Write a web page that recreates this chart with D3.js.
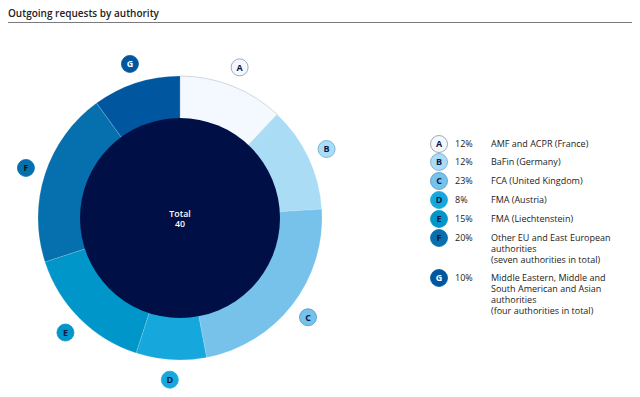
<!DOCTYPE html>
<html>
<head>
<meta charset="utf-8">
<script src="https://cdn.jsdelivr.net/npm/d3@7"></script>
<style>
  body { margin: 0; background: #fff; }
  text { font-family: "Open Sans", "Noto Sans", sans-serif; }
</style>
</head>
<body>
<svg id="chart" width="640" height="397"></svg>
<script>
const keys = ["A", "B", "C", "D", "E", "F", "G"];
const shares = [12, 12, 23, 8, 15, 20, 10];
const names = [
  ["AMF and ACPR (France)"],
  ["BaFin (Germany)"],
  ["FCA (United Kingdom)"],
  ["FMA (Austria)"],
  ["FMA (Liechtenstein)"],
  ["Other EU and East European", "authorities", "(seven authorities in total)"],
  ["Middle Eastern, Middle and", "South American and Asian", "authorities", "(four authorities in total)"]
];
const total = 40;
const colors = ["#f3f9fe", "#abdcf6", "#76c2ea", "#16a7dc", "#0096c9", "#0670ae", "#0057a0"];
const badgeText = ["#0b1a4a", "#0b1a4a", "#0b1a4a", "#0b1a4a", "#0b1a4a", "#111", "#fff"];
const badgeStroke = ["#8a94a6", "#6aa8cc", "#4d97c4", "#16a7dc", "#0096c9", "#0670ae", "#0057a0"];

const svg = d3.select("#chart");

svg.append("text")
  .attr("x", 8).attr("y", 17)
  .attr("font-size", 10).attr("font-weight", 600)
  .attr("fill", "#222")
  .text("Outgoing requests by authority");

svg.append("line")
  .attr("x1", 8).attr("x2", 632).attr("y1", 22.5).attr("y2", 22.5)
  .attr("stroke", "#7a7a7a").attr("stroke-width", 1);

const cx = 180, cy = 218, rOuter = 142, rInner = 100, rBadge = 162;

const pie = d3.pie().sort(null).value(d => d.v);
const arcs = pie(keys.map((k, i) => ({ k, v: shares[i], i })));

const ring = d3.arc().innerRadius(rInner - 2).outerRadius(rOuter);
const g = svg.append("g").attr("transform", `translate(${cx},${cy})`);

g.selectAll("path.seg")
  .data(arcs)
  .join("path")
  .attr("class", "seg")
  .attr("d", ring)
  .attr("fill", d => colors[d.data.i])
  .attr("stroke", d => d.data.i === 0 ? "#b8bec8" : "rgba(255,255,255,0.25)")
  .attr("stroke-width", 0.6);

g.append("circle")
  .attr("r", rInner)
  .attr("fill", "#000f45");

g.append("text")
  .attr("text-anchor", "middle").attr("y", -1.5)
  .attr("font-size", 8.8).attr("font-weight", 600).attr("fill", "#fff")
  .text("Total");
g.append("text")
  .attr("text-anchor", "middle").attr("y", 8.8)
  .attr("font-size", 8.8).attr("font-weight", 600).attr("fill", "#fff")
  .text(total);

function badge(sel, i) {
  sel.append("circle")
    .attr("r", 8.5)
    .attr("fill", colors[i])
    .attr("stroke", badgeStroke[i])
    .attr("stroke-width", 0.8);
  sel.append("text")
    .attr("text-anchor", "middle").attr("y", 3.3)
    .attr("font-size", 9).attr("font-weight", 700)
    .attr("fill", badgeText[i])
    .text(keys[i]);
}

const badgeArc = d3.arc().innerRadius(rBadge).outerRadius(rBadge);
arcs.forEach(a => {
  const [bx, by] = badgeArc.centroid(a);
  badge(g.append("g").attr("transform", `translate(${bx},${by})`), a.data.i);
});

// legend
const legendY = [144, 162, 181, 200, 219, 238, 278];
const legend = svg.append("g");
keys.forEach((k, i) => {
  const row = legend.append("g").attr("transform", `translate(439,${legendY[i]})`);
  badge(row, i);
  row.append("text")
    .attr("x", 16).attr("y", 3.2)
    .attr("font-size", 9).attr("fill", "#222")
    .text(shares[i] + "%");
  row.append("text")
    .attr("x", 52).attr("y", 3.2)
    .attr("font-size", 9).attr("fill", "#222")
    .selectAll("tspan")
    .data(names[i])
    .join("tspan")
    .attr("x", 52)
    .attr("dy", (d, j) => j === 0 ? 0 : 10.8)
    .text(d => d);
});
</script>
</body>
</html>
